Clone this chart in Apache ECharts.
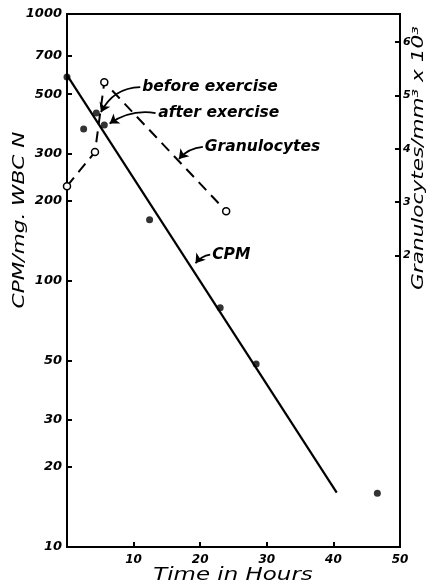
<!DOCTYPE html>
<html><head><meta charset="utf-8">
<script src="https://cdn.jsdelivr.net/npm/echarts@6/dist/echarts.min.js"></script>
<style>html,body{margin:0;padding:0;background:#fff}#c{width:428px;height:584px}</style>
</head><body><div id="c"></div>
<script>
// CPM measurements (hours, CPM/mg WBC N)
const cpmHours = [0, 2.5, 4.4, 5.6, 12.4, 23, 28.4, 46.6];
const cpmValues = [580, 370, 425, 383, 169, 79, 48.6, 15.9];
// fitted CPM line
const fitHours = [0, 40.5];
const fitValues = [590, 16];
// granulocytes (x10^3 per mm^3)
const granHours = [0, 4.2, 5.6, 23.9];
const granValues = [3.3, 3.94, 5.25, 2.83];
// tick labels
const leftTicks = [10, 20, 30, 50, 100, 200, 300, 500, 700, 1000];
const rightTicks = [2, 3, 4, 5, 6];
const xTicks = [10, 20, 30, 40, 50];
// annotations (data coords on left axis)
const noteText = ['before exercise', 'after exercise', 'Granulocytes', 'CPM'];
const noteAt = [[11.3, 532], [13.7, 425], [20.7, 317], [21.8, 125]];
const arrowFrom = [[11.0, 532], [13.3, 425], [20.4, 317], [21.5, 125]];
const arrowTo = [[5.1, 428], [6.4, 388], [16.8, 286], [19.3, 116]];
const arrowCurve = [-0.3, -0.2, -0.2, -0.2];

const FONT = '"DejaVu Sans"';
const chart = echarts.init(document.getElementById('c'));
const lab = {fontFamily: FONT, fontStyle: 'italic', fontWeight: 'bold', color: '#000'};

chart.setOption({
  animation: false,
  grid: {left: 67, right: 28, top: 14, bottom: 37, show: true, borderColor: '#000', borderWidth: 2},
  xAxis: {
    type: 'value', min: 0, max: 50,
    axisLine: {onZero: false, lineStyle: {color: '#000', width: 2}},
    axisTick: {inside: true, length: 5, lineStyle: {color: '#000', width: 2}, customValues: [10, 20, 30, 40]},
    axisLabel: Object.assign({fontSize: 12, margin: 7, customValues: xTicks}, lab),
    splitLine: {show: false}
  },
  yAxis: [{
    type: 'log', logBase: 10, min: 10, max: 1000,
    axisLine: {show: true, onZero: false, lineStyle: {color: '#000', width: 2}},
    axisTick: {show: true, inside: true, length: 5, lineStyle: {color: '#000', width: 2}, customValues: leftTicks},
    axisLabel: Object.assign({fontSize: 13, margin: 5, customValues: leftTicks, formatter: v => String(Math.round(v))}, lab),
    splitLine: {show: false}
  }, {
    type: 'value', min: -3.47, max: 6.53, position: 'right',
    axisLine: {show: true, onZero: false, lineStyle: {color: '#000', width: 2}},
    axisTick: {show: true, inside: true, length: 5, lineStyle: {color: '#000', width: 2}, customValues: rightTicks},
    axisLabel: Object.assign({fontSize: 11, margin: 3, customValues: rightTicks}, lab),
    splitLine: {show: false}
  }],
  series: [
    {type: 'line', yAxisIndex: 0, data: fitHours.map((h, i) => [h, fitValues[i]]),
     symbol: 'none', lineStyle: {color: '#000', width: 2.2}, z: 2},
    {type: 'scatter', yAxisIndex: 0, data: cpmHours.map((h, i) => [h, cpmValues[i]]),
     symbol: 'circle', symbolSize: 7, itemStyle: {color: '#000'}, z: 5},
    {type: 'line', yAxisIndex: 1, data: granHours.map((h, i) => [h, granValues[i]]),
     symbol: 'circle', symbolSize: 7, showSymbol: true,
     itemStyle: {color: '#fff', borderColor: '#000', borderWidth: 1.5},
     lineStyle: {color: '#000', width: 2, type: [11, 7]}, z: 4},
    {type: 'lines', coordinateSystem: 'cartesian2d', xAxisIndex: 0, yAxisIndex: 0,
     symbol: ['none', 'arrow'], symbolSize: 9, silent: true, z: 6,
     lineStyle: {color: '#000', width: 1.8, opacity: 1},
     data: arrowFrom.map((f, i) => ({coords: [f, arrowTo[i]], lineStyle: {curveness: arrowCurve[i]}}))}
  ]
});

const g = [];
noteText.forEach((t, i) => {
  const p = chart.convertToPixel({xAxisIndex: 0, yAxisIndex: 0}, noteAt[i]);
  g.push({type: 'text', x: p[0], y: p[1], style: {text: t, fontSize: 15.5, align: 'left', verticalAlign: 'middle', fill: '#000', fontFamily: FONT, fontStyle: 'italic', fontWeight: 'bold'}});
});
g.push({type: 'text', x: 20, y: 220, rotation: Math.PI / 2, scaleX: 1.35,
  style: {text: 'CPM/mg. WBC N', fontSize: 16, fontFamily: FONT, fontStyle: 'italic', fill: '#000', align: 'center', verticalAlign: 'middle'}});
g.push({type: 'text', x: 419, y: 158, rotation: Math.PI / 2, scaleX: 1.35,
  style: {text: 'Granulocytes/mm³ x 10³', fontSize: 16, fontFamily: FONT, fontStyle: 'italic', fill: '#000', align: 'center', verticalAlign: 'middle'}});
g.push({type: 'text', x: 233, y: 576, scaleX: 1.35,
  style: {text: 'Time in Hours', fontSize: 17, fontFamily: FONT, fontStyle: 'italic', fill: '#000', align: 'center', verticalAlign: 'middle'}});
chart.setOption({graphic: g});
</script></body></html>
